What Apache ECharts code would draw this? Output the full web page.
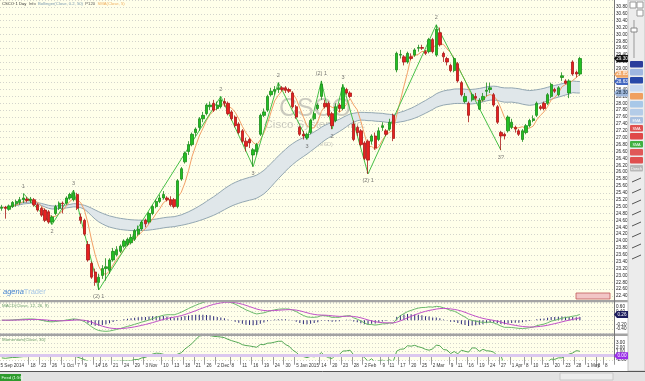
<!DOCTYPE html>
<html>
<head>
<meta charset="utf-8">
<script src="https://cdn.jsdelivr.net/npm/echarts@6/dist/echarts.min.js"></script>
<style>
html,body{margin:0;padding:0;background:#ffffff;}
#chart{width:645px;height:381px;}
</style>
</head>
<body>
<div id="chart"></div>
<script>
// ================= DATA =================
const firstDay = '2014-09-05';
const lastAxisDay = '2015-05-11';
const holidays = ['2014-11-27','2014-12-25','2015-01-01','2015-01-19','2015-02-16','2015-04-03'];

// daily candles: [open, close, low, high]
const ohlc = [
[24.95,24.98,24.88,25.05],[24.98,24.95,24.65,25.02],[24.92,25.02,24.88,25.06],[25.00,25.12,24.96,25.16],
[25.08,25.15,25.00,25.20],[25.12,25.20,25.05,25.28],[25.20,25.25,25.10,25.38],[25.22,25.18,25.12,25.28],
[25.18,25.22,25.10,25.28],[25.20,25.05,25.00,25.25],[25.05,24.90,24.85,25.10],[24.95,24.75,24.70,25.00],
[24.90,24.60,24.55,24.95],[24.85,24.55,24.50,24.90],[24.55,24.70,24.48,24.75],[24.80,25.00,24.75,25.05],
[24.95,25.10,24.90,25.15],[25.10,25.08,24.80,25.15],[25.10,25.25,25.05,25.30],[25.25,25.35,25.20,25.40],
[25.20,25.40,25.15,25.48],[25.35,24.95,24.90,25.40],[24.70,24.60,24.50,24.80],[24.60,24.20,24.15,24.65],
[23.90,23.45,23.40,24.00],[23.35,22.95,22.90,23.40],[23.10,22.80,22.70,23.20],[22.80,22.95,22.58,23.05],
[23.00,23.20,22.90,23.30],[23.20,23.25,22.85,23.50],[23.15,23.45,23.05,23.50],[23.45,23.70,23.40,23.80],
[23.60,23.75,23.55,23.85],[23.70,23.85,23.65,23.90],[23.85,24.00,23.80,24.05],[23.90,24.05,23.85,24.10],
[23.95,24.10,23.90,24.20],[24.05,24.30,24.00,24.35],[24.20,24.35,24.15,24.45],[24.35,24.55,24.30,24.60],
[24.60,24.50,24.40,24.65],[24.55,24.80,24.50,24.85],[24.80,25.00,24.75,25.05],[25.00,25.15,24.95,25.20],
[25.15,25.25,25.10,25.35],[25.25,25.35,25.20,25.45],[25.25,25.20,25.15,25.30],[25.20,25.05,25.00,25.30],
[25.20,25.00,24.95,25.25],[25.00,25.75,24.95,25.80],[25.80,26.10,25.75,26.15],[26.30,26.55,26.25,26.60],
[26.60,26.80,26.50,26.90],[26.80,27.10,26.75,27.15],[27.15,27.25,27.05,27.30],[27.30,27.55,27.20,27.60],
[27.55,27.65,27.45,27.75],[27.70,27.95,27.65,28.00],[27.90,27.95,27.80,28.05],[28.00,27.80,27.75,28.10],
[27.85,27.95,27.80,28.05],[27.90,28.10,27.85,28.20],[28.05,28.00,27.90,28.15],[28.00,27.70,27.65,28.05],
[27.75,27.55,27.50,27.80],[27.60,27.35,27.30,27.65],[27.40,27.15,27.10,27.45],[27.20,26.90,26.85,27.25],
[26.90,26.75,26.60,27.00],[26.95,26.85,26.70,27.00],[26.50,26.65,26.16,26.70],[26.60,26.80,26.50,26.85],
[27.10,27.65,27.05,27.70],[27.65,27.75,27.60,27.85],[27.80,28.20,27.75,28.25],[28.25,28.35,28.20,28.45],
[28.35,28.40,28.25,28.50],[28.40,28.45,28.30,28.60],[28.45,28.40,28.35,28.50],[28.45,28.38,28.30,28.50],
[28.40,28.35,28.30,28.45],[28.30,27.90,27.85,28.35],[27.90,27.60,27.55,27.95],[27.30,27.10,27.05,27.35],
[27.10,27.05,26.95,27.20],[27.00,27.10,26.95,27.15],[27.15,27.50,27.10,27.55],[27.55,27.70,27.50,27.75],
[27.85,27.95,27.80,28.00],[28.20,28.55,28.10,28.65],[28.00,27.90,27.85,28.10],[28.00,27.65,27.60,28.05],
[27.70,27.35,27.25,27.75],[27.50,27.90,27.45,28.00],[27.95,27.85,27.75,28.00],[27.85,28.45,27.80,28.55],
[28.40,28.30,28.25,28.45],[28.30,28.20,28.15,28.35],[27.40,26.95,26.90,27.50],[27.30,27.15,27.05,27.35],
[27.20,26.80,26.75,27.25],[26.85,26.40,26.35,26.90],[26.90,26.35,25.95,26.95],[26.90,27.05,26.80,27.10],
[27.05,26.70,26.65,27.15],[26.95,27.20,26.90,27.30],[27.30,27.35,27.20,27.45],[27.20,27.10,27.05,27.25],
[27.25,27.45,27.20,27.55],[27.65,26.98,26.90,27.70],[28.97,29.45,28.90,29.50],[29.40,29.42,29.30,29.55],
[29.35,29.20,29.10,29.40],[29.20,29.45,29.15,29.50],[29.35,29.30,29.25,29.45],[29.40,29.55,29.35,29.60],
[29.60,29.62,29.50,29.70],[29.62,29.60,29.55,29.70],[29.50,29.45,29.40,29.55],[29.50,29.85,29.45,29.90],
[29.85,29.50,29.45,29.90],[29.40,30.15,29.35,30.28],[30.05,29.70,29.65,30.20],[29.45,29.35,29.20,29.50],
[29.30,29.20,29.10,29.35],[29.10,28.95,28.90,29.15],[28.95,29.30,28.90,29.35],[29.15,28.65,28.60,29.20],
[28.60,28.25,28.20,28.65],[28.05,28.20,28.00,28.30],[28.00,27.65,27.45,28.05],[28.10,28.25,28.05,28.30],
[28.20,28.15,28.10,28.30],[27.83,28.09,27.80,28.15],[28.10,28.20,28.05,28.30],[28.35,28.38,28.20,28.60],
[28.40,28.45,28.30,28.60],[28.25,27.95,27.90,28.30],[27.90,27.45,27.40,27.95],[27.15,27.05,26.64,27.20],
[27.10,27.05,26.95,27.15],[27.20,27.60,27.15,27.65],[27.30,27.45,27.25,27.55],[27.30,27.25,27.15,27.35],
[27.20,27.10,27.05,27.25],[26.95,27.20,26.88,27.25],[27.15,27.35,27.10,27.40],[27.35,27.50,27.30,27.55],
[27.50,27.55,27.45,27.65],[27.65,28.00,27.60,28.05],[27.90,27.85,27.80,27.95],[28.00,27.85,27.80,28.05],
[28.00,28.25,27.95,28.30],[28.20,28.55,28.15,28.60],[28.40,28.35,28.30,28.45],[28.25,28.45,28.20,28.50],
[28.75,28.80,28.65,28.90],[28.65,28.58,28.55,28.70],[28.30,28.65,28.15,28.70],[29.20,28.85,28.80,29.25],
[28.90,28.85,28.75,28.95],[28.85,29.30,28.80,29.35]
];

// date-axis tick labels
const tickDates = ['2014-09-18','2014-09-23','2014-09-26','2014-10-01','2014-10-07','2014-10-09','2014-10-14',
'2014-10-16','2014-10-21','2014-10-24','2014-10-29','2014-11-03','2014-11-10','2014-11-13','2014-11-18','2014-11-21',
'2014-11-26','2014-12-02','2014-12-08','2014-12-11','2014-12-16','2014-12-19','2014-12-24','2014-12-30','2015-01-05',
'2015-01-14','2015-01-20','2015-01-23','2015-01-28','2015-02-02','2015-02-09','2015-02-11','2015-02-17',
'2015-02-20','2015-02-25','2015-03-02','2015-03-09','2015-03-11','2015-03-16','2015-03-19','2015-03-24','2015-03-27',
'2015-04-01','2015-04-08','2015-04-10','2015-04-15','2015-04-20','2015-04-23','2015-04-28','2015-05-01','2015-05-06','2015-05-08'];
const tickTexts = ['18','23','26','1 Oct','7','9','14','16','21','24','29','3 Nov','10','13','18','21',
'26','2 Dec','8','11','16','19','24','30','5 Jan 2015','14','20','23','28','2 Feb','9','11','17',
'20','25','2 Mar','9','11','16','19','24','27','1 Apr','8','10','15','20','23','28','1 May','6','8'];
const firstTickText = '5 Sep 2014';

// zig-zag wave pivots (candle index, price, wave label)
const pivotIndex = [6,14,20,27,61,70,77,85,89,92,95,102,121,139];
const pivotPrice = [25.38,24.48,25.48,22.58,28.20,26.16,28.60,26.95,28.65,27.25,28.55,25.95,30.28,26.64];
const pivotLabel = ['1','2','3','(2) 1','2','3','2','3','(2) 1','2','3','(2) 1','2','3?'];

// momentum(30) for the first 30 sessions
const momentumHead = [-0.5,-0.6,-0.5,-0.4,-0.4,-0.3,-0.2,-0.2,-0.1,0.0,0.1,0.1,0.0,-0.2,-0.1,0.1,0.2,0.2,0.3,0.2,
0.1,-0.3,-0.6,-0.9,-1.3,-1.4,-1.5,-1.6,-1.4,-1.3];

// ================= BUILD =================
function buildDays(a, b, skip){
  const out=[]; const d=new Date(a+'T00:00:00Z'); const end=new Date(b+'T00:00:00Z');
  while(d<=end){
    const dow=d.getUTCDay(); const s=d.toISOString().slice(0,10);
    if(dow!==0 && dow!==6 && skip.indexOf(s)<0) out.push(s);
    d.setUTCDate(d.getUTCDate()+1);
  }
  return out;
}
const categories = buildDays(firstDay, lastAxisDay, holidays);
const N = categories.length;
const closes = ohlc.map(r=>r[1]);
const M = closes.length;
const mean = a => a.reduce((s,v)=>s+v,0)/a.length;
const r3 = v => Math.round(v*1000)/1000;
const sma5 = closes.map((c,i)=>r3(mean(closes.slice(Math.max(0,i-4),i+1))));
const bbU=[], bbL=[], bbD=[];
closes.forEach((c,i)=>{
  const w=closes.slice(Math.max(0,i-49),i+1); const m=mean(w);
  const sd=Math.sqrt(mean(w.map(v=>(v-m)*(v-m))));
  bbU.push(r3(m+0.2*sd)); bbL.push(r3(m-0.2*sd)); bbD.push(r3(0.4*sd));
});
function ema(arr,p){const k=2/(p+1); const out=[]; arr.forEach((v,i)=>out.push(i===0?v:out[i-1]+k*(v-out[i-1]))); return out;}
const e12=ema(closes,12), e26=ema(closes,26);
const macd=e12.map((v,i)=>v-e26[i]);
const signal=ema(macd,9);
const hist=macd.map((v,i)=>r3(v-signal[i]));
const macdR=macd.map(r3), signalR=signal.map(r3);
const momentum=closes.map((c,i)=> i<30 ? momentumHead[i] : r3(c-closes[i-30]));

const zig = new Array(M).fill(null);
pivotIndex.forEach((k,j)=>{ zig[k]=pivotPrice[j]; });
const pivotPts = pivotIndex.map((k,j)=>{
  const ref = j>0 ? pivotPrice[j-1] : pivotPrice[j+1];
  const isHigh = pivotPrice[j] > ref;
  return {value:[k,pivotPrice[j]], label:{position:isHigh?'top':'bottom', formatter:pivotLabel[j]}};
});

const tickMap = {}; tickDates.forEach((d,i)=>tickMap[d]=tickTexts[i]);
// a date label is written just after the separator that precedes its session
const labelBefore = i => (i+1<N) && !!tickMap[categories[i+1]];

// ================= CHART =================
const chart = echarts.init(document.getElementById('chart'), null, {width:645, height:381});
const FONT = 'Liberation Sans, Arial, sans-serif';
const BG = '#ffffea';
const gridCommon = {left:0, width:614, show:true, backgroundColor:BG, borderWidth:0};
const dotted = {show:true, lineStyle:{color:'#d3d4cc', type:[1,2], width:1}};
function catAxis(g, showLabels){
  return {type:'category', gridIndex:g, data:categories, boundaryGap:true,
    axisLine:{show:showLabels, lineStyle:{color:'#666'}},
    axisTick:{show:showLabels, length:9, alignWithLabel:false, interval:(i)=>labelBefore(i), lineStyle:{color:'#9a9a9a'}},
    axisLabel:{show:showLabels, interval:(i)=>labelBefore(i), formatter:(v,i)=>tickMap[categories[i+1]]||'',
      fontSize:4.6, color:'#333', fontFamily:FONT, align:'left', margin:3},
    splitLine:{show:false}};
}
const yLab = {fontSize:4.6, color:'#222', fontFamily:FONT, margin:2};
const option = {
  animation:false,
  backgroundColor:'#ffffff',
  grid:[
    Object.assign({top:-4, height:307}, gridCommon),
    Object.assign({top:302.6, height:30.8}, gridCommon),
    Object.assign({top:336.6, height:23.4}, gridCommon)
  ],
  xAxis:[catAxis(0,false), catAxis(1,false), catAxis(2,true)],
  yAxis:[
    {type:'value', gridIndex:0, position:'right', min:22.2, max:31.0, interval:0.2,
      axisLine:{show:false}, axisTick:{show:false}, splitLine:dotted,
      axisLabel:Object.assign({formatter:v=> (v<22.3||v>30.9)?'':v.toFixed(2)}, yLab)},
    {type:'value', gridIndex:1, position:'right', min:-0.6, max:0.8, interval:0.2,
      axisLine:{show:false}, axisTick:{show:false}, splitLine:dotted,
      axisLabel:Object.assign({formatter:v=> (Math.abs(v-0.6)<1e-6||Math.abs(v-0.4)<1e-6||Math.abs(v+0.2)<1e-6||Math.abs(v+0.4)<1e-6)?v.toFixed(2):''}, yLab)},
    {type:'value', gridIndex:2, position:'right', min:-1, max:4.5, interval:1,
      axisLine:{show:false}, axisTick:{show:false}, splitLine:dotted,
      axisLabel:Object.assign({formatter:v=> (v===1||v===2||v===3||v===-1)?v.toFixed(2):''}, yLab)}
  ],
  series:[
    {name:'bbLower', type:'line', xAxisIndex:0, yAxisIndex:0, data:bbL, stack:'bb', symbol:'none',
      lineStyle:{color:'#93a7b2', width:1}, z:2, silent:true},
    {name:'bbFill', type:'line', xAxisIndex:0, yAxisIndex:0, data:bbD, stack:'bb', symbol:'none',
      lineStyle:{color:'#93a7b2', width:1}, areaStyle:{color:'#e0e7ea', opacity:1}, z:2, silent:true},
    {name:'sma5', type:'line', xAxisIndex:0, yAxisIndex:0, data:sma5, symbol:'none',
      lineStyle:{color:'#f2a066', width:1}, z:3},
    {name:'zigzag', type:'line', xAxisIndex:0, yAxisIndex:0, data:zig, connectNulls:true, symbol:'none',
      lineStyle:{color:'#46c046', width:1}, z:4},
    {name:'price', type:'candlestick', xAxisIndex:0, yAxisIndex:0, data:ohlc, barWidth:2.8, z:5,
      itemStyle:{color:'#22c022', color0:'#e82020', borderColor:'#1a8a1a', borderColor0:'#a81818', borderWidth:0.8}},
    {name:'waves', type:'scatter', xAxisIndex:0, yAxisIndex:0, data:pivotPts, symbolSize:0, z:6,
      label:{show:true, fontSize:5.5, color:'#555', fontFamily:FONT, distance:4}},
    {name:'hist', type:'bar', xAxisIndex:1, yAxisIndex:1, data:hist, barWidth:1, itemStyle:{color:'#2c2a7a'}, z:2},
    {name:'macd', type:'line', xAxisIndex:1, yAxisIndex:1, data:macdR, symbol:'none', lineStyle:{color:'#6cba6c', width:1}, z:3},
    {name:'signal', type:'line', xAxisIndex:1, yAxisIndex:1, data:signalR, symbol:'none', lineStyle:{color:'#c050c8', width:1}, z:3},
    {name:'momentum', type:'line', xAxisIndex:2, yAxisIndex:2, data:momentum, symbol:'none', lineStyle:{color:'#55a855', width:1}, z:3,
      markLine:{silent:true, symbol:'none', label:{show:false}, data:[{yAxis:0}], lineStyle:{color:'#dbc8ef', width:3, type:'solid'}}}
  ]
};
chart.setOption(option);

// ---------- decorations ----------
const wm = 'rgba(140,140,140,0.45)';
const deco = [
  {type:'text', x:315, y:109, style:{text:'CSCO', fill:wm, fontSize:25, fontFamily:FONT, align:'center', verticalAlign:'middle'}, z:1},
  {type:'text', x:315, y:125, style:{text:'Cisco Systems, Inc.', fill:wm, fontSize:11.5, fontFamily:FONT, align:'center', verticalAlign:'middle'}, z:1},
  {type:'text', x:315, y:144, style:{text:'Nasdaq (USD)', fill:wm, fontSize:5.5, fontFamily:FONT, align:'center', verticalAlign:'middle'}, z:1},
  {type:'rect', shape:{x:0,y:300,width:628,height:2.2}, style:{fill:'#a3a3a3'}, z:100},
  {type:'rect', shape:{x:0,y:333.6,width:628,height:2.4}, style:{fill:'#a3a3a3'}, z:100},
  {type:'line', shape:{x1:614.5,y1:0,x2:614.5,y2:360}, style:{stroke:'#777',lineWidth:1}, z:100},
  {type:'rect', shape:{x:628,y:0,width:17,height:371}, style:{fill:'#ececec',stroke:'#c4c4c4',lineWidth:1}, z:100},
  {type:'rect', shape:{x:0,y:371,width:645,height:10}, style:{fill:'#e2e2e2'}, z:100},
  {type:'line', shape:{x1:0,y1:371.5,x2:645,y2:371.5}, style:{stroke:'#555',lineWidth:1}, z:101},
  {type:'rect', shape:{x:0,y:374,width:21,height:7}, style:{fill:'#2e9b2e'}, z:101},
  {type:'text', x:1.5, y:377.5, style:{text:'Feed (1:56)', fill:'#e8ffe8', fontSize:4.2, fontFamily:FONT, verticalAlign:'middle'}, z:102},
  {type:'rect', shape:{x:560,y:373,width:53,height:7}, style:{fill:'#ececec',stroke:'#c8c8c8'}, z:101},
  {type:'rect', shape:{x:576,y:293,width:34,height:6}, style:{fill:'#f2c6c6',stroke:'#c05858',lineWidth:0.8}, z:100},
  {type:'text', x:0.5, y:365.5, style:{text:firstTickText, fill:'#333', fontSize:4.6, fontFamily:FONT, verticalAlign:'middle'}, z:100},
  {type:'text', x:2, y:4, style:{text:'{a|CSCO·1 Day}  {b|Info}  {c|Bollinger(Close, 0.2, 50)}  {b|P120}  {d|SMA(Close, 5)}',
    fontSize:4.2, fontFamily:FONT, verticalAlign:'middle',
    rich:{a:{fill:'#333',fontSize:4.2},b:{fill:'#555',fontSize:4.2},c:{fill:'#7a9ab0',fontSize:4.2},d:{fill:'#f0b060',fontSize:4.2}}}, z:100},
  {type:'text', x:3, y:292, style:{text:'{a|agena}{b|Trader}', fontSize:7.5, fontFamily:FONT, verticalAlign:'middle',
    rich:{a:{fill:'#3f7fd0',fontSize:7.5,fontStyle:'italic'},b:{fill:'#a6c6e6',fontSize:7.5}}}, z:100},
  {type:'text', x:2, y:306, style:{text:'MACD(Close, 12, 26, 9)', fill:'#6a9a6a', fontSize:4.4, fontFamily:FONT, verticalAlign:'middle'}, z:100},
  {type:'text', x:2, y:339.5, style:{text:'Momentum(Close, 30)', fill:'#6a9a6a', fontSize:4.4, fontFamily:FONT, verticalAlign:'middle'}, z:100}
];
// toolbar buttons
const tbColors = ['#2c3e9c','#9fb7e0','#2848a8','#c9d9f0','#f0a060','#a8c8e8','#b4cce8','#a8c0e0','#e05050','#e04848','#40b040','#e05858','#e05050','#b8b8b8'];
const tbText = ['','','','','','','','EMA','SMA','','SMA','','','Donch'];
tbColors.forEach((c,i)=>{
  deco.push({type:'rect', shape:{x:630,y:61+i*8,width:13,height:6.5,r:1}, style:{fill:c}, z:101});
  if(tbText[i]) deco.push({type:'text', x:636.5, y:64.5+i*8, style:{text:tbText[i], fill:'#fff', fontSize:3.8, fontFamily:FONT, align:'center', verticalAlign:'middle'}, z:102});
});
deco.push({type:'rect', shape:{x:630,y:2,width:6,height:6}, style:{fill:'#fff',stroke:'#999'}, z:101});
deco.push({type:'rect', shape:{x:637,y:2,width:6,height:6}, style:{fill:'#fff',stroke:'#999'}, z:101});
deco.push({type:'rect', shape:{x:637,y:10,width:6,height:6}, style:{fill:'#fff',stroke:'#999'}, z:101});
deco.push({type:'line', shape:{x1:634,y1:20,x2:634,y2:58}, style:{stroke:'#999',lineWidth:1}, z:101});
deco.push({type:'rect', shape:{x:631,y:28,width:6,height:4}, style:{fill:'#fff',stroke:'#888'}, z:102});
for(let i=0;i<8;i++){
  deco.push({type:'line', shape:{x1:632,y1:182+i*11,x2:641,y2:178+i*11}, style:{stroke:'#555',lineWidth:1}, z:101});
}

// value tags at the right edge, from the last computed values
function tag(yAxisIndex, val, bg, fg, txt){
  const y = chart.convertToPixel({yAxisIndex:yAxisIndex}, val);
  deco.push({type:'polygon', shape:{points:[[614,y],[617,y-3.5],[628,y-3.5],[628,y+3.5],[617,y+3.5]]}, style:{fill:bg}, z:110});
  deco.push({type:'text', x:622, y:y, style:{text:txt, fill:fg, fontSize:4.6, fontFamily:FONT, align:'center', verticalAlign:'middle'}, z:111});
}
const L = M-1;
tag(0, closes[L], '#111', '#fff', closes[L].toFixed(2));
tag(0, sma5[L], '#f0a868', '#fff', sma5[L].toFixed(2));
tag(0, bbU[L], '#4468c0', '#fff', bbU[L].toFixed(2));
tag(0, bbL[L], '#9fb8dc', '#123', bbL[L].toFixed(2));
tag(1, macdR[L], '#1c1c5c', '#fff', macdR[L].toFixed(2));
tag(2, 0, '#9a2ee8', '#fff', '0.00');
chart.setOption({graphic:deco});
</script>
</body>
</html>
